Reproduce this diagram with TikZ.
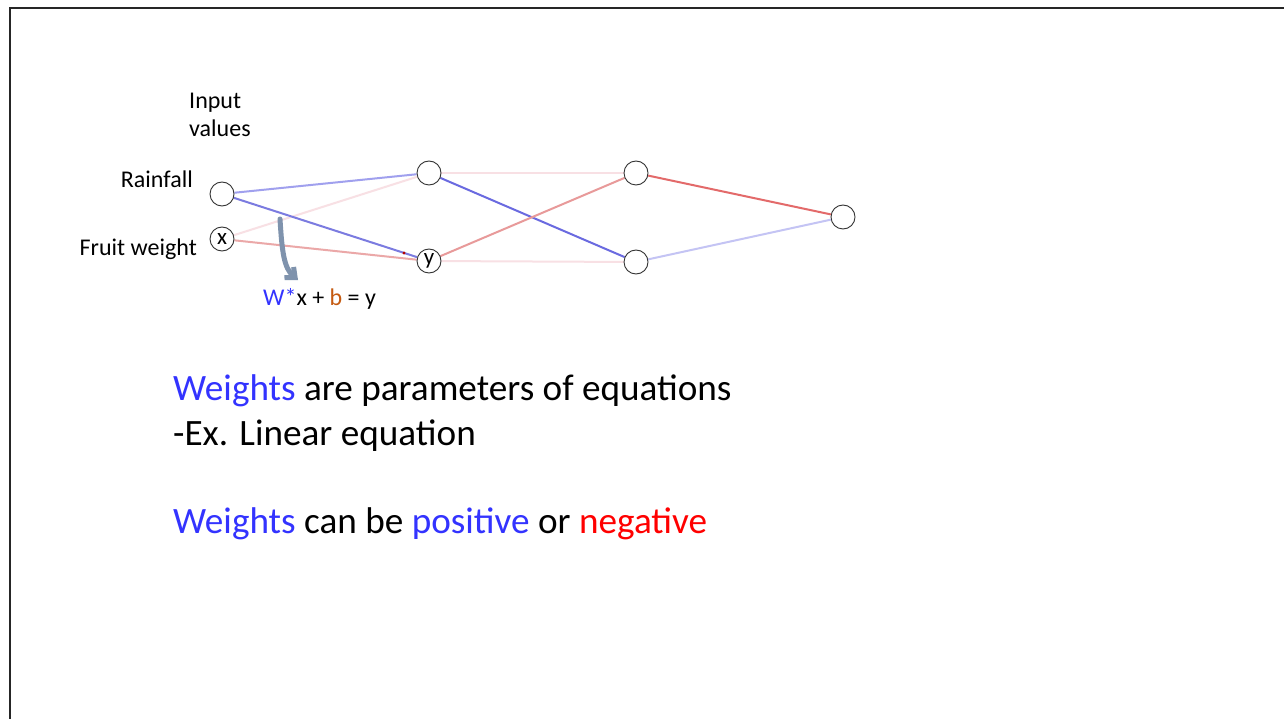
\documentclass[tikz,border=0pt]{standalone}
\usepackage{fontspec}
\setmainfont{Carlito}
\usetikzlibrary{arrows.meta,backgrounds}
\definecolor{wblue}{HTML}{3333FF}
\definecolor{nred}{HTML}{FF0000}
\definecolor{borange}{HTML}{C55A11}
\definecolor{arrowgray}{HTML}{7F93AD}
\definecolor{eblueA}{HTML}{A0A0EE}
\definecolor{eblueB}{HTML}{7B7BE0}
\definecolor{eblueC}{HTML}{6A6AE0}
\definecolor{eblueD}{HTML}{C4C4F4}
\definecolor{eredA}{HTML}{F8E0E4}
\definecolor{eredB}{HTML}{EBA8A8}
\definecolor{eredC}{HTML}{E89A9A}
\definecolor{eredD}{HTML}{E36A6A}
\tikzset{
  neuron/.style={circle,draw=black!80,line width=0.9pt,fill=white,minimum size=24pt,inner sep=0pt,font=\fontsize{23}{24}\selectfont},
  lbl/.style={inner sep=0pt,font=\fontsize{24}{27}\selectfont},
  big/.style={inner sep=0pt,anchor=base west,font=\fontsize{37.2}{42}\selectfont},
  edge/.style={line width=2pt}
}
\begin{document}
\begin{tikzpicture}[x=1pt,y=-1pt]
\useasboundingbox (0,0) rectangle (1284,719);
% neurons
\node[neuron] (R) at (222,194) {};
\node[neuron] (X) at (222,239) {x};
\node[neuron] (H1) at (429,173) {};
\node[neuron] (Y) at (429,261) {y};
\node[neuron] (H3) at (636,173) {};
\node[neuron] (H4) at (636,262) {};
\node[neuron] (O) at (843,217) {};
\begin{scope}[on background layer]
\fill[white] (0,0) rectangle (1284,719);
\draw[line width=2.2pt,black!85] (10,8) rectangle (1300,740);
\draw[edge,eredA] (X) -- (H1);
\draw[edge,eredB] (X) -- (Y);
\draw[edge,eblueA] (R) -- (H1);
\draw[edge,eblueB] (R) -- (Y);
\draw[edge,eredA] (H1) -- (H3);
\draw[edge,eredA] (Y) -- (H4);
\draw[edge,eblueC] (H1) -- (H4);
\draw[edge,eredC] (Y) -- (H3);
\draw[edge,eredD] (H3) -- (O);
\draw[edge,eblueD] (H4) -- (O);
\end{scope}
\fill[red!70!black] (404,253) circle (1.6pt);
% labels
\node[lbl,anchor=base west] (in1) at (189,109) {Input};
\node[lbl,anchor=base west] (in2) at (189,137) {values};
\node[lbl,anchor=base east] (rain) at (193,188) {Rainfall};
\node[lbl,anchor=base east] (fw) at (197,255) {Fruit weight};
\node[lbl,anchor=base west] (eq) at (263,305) {\textcolor{wblue}{W*}x + \textcolor{borange}{b} = y};
% gray arrow
\coordinate (a0) at (280,219);
\coordinate (a1) at (298,280);
\draw[arrowgray,line width=5pt,line cap=round,-{Straight Barb[length=8pt,width=14pt]}] (a0) .. controls (282,252) and (284,268) .. (a1);
% big text
\node[big] (t1) at (173,400) {\textcolor{wblue}{Weights} are parameters of equations};
\node[big] (t2) at (173,445) {-Ex. Linear equation};
\node[big] (t3) at (173,533) {\textcolor{wblue}{Weights} can be \textcolor{wblue}{positive} or \textcolor{nred}{negative}};
\end{tikzpicture}
\end{document}
